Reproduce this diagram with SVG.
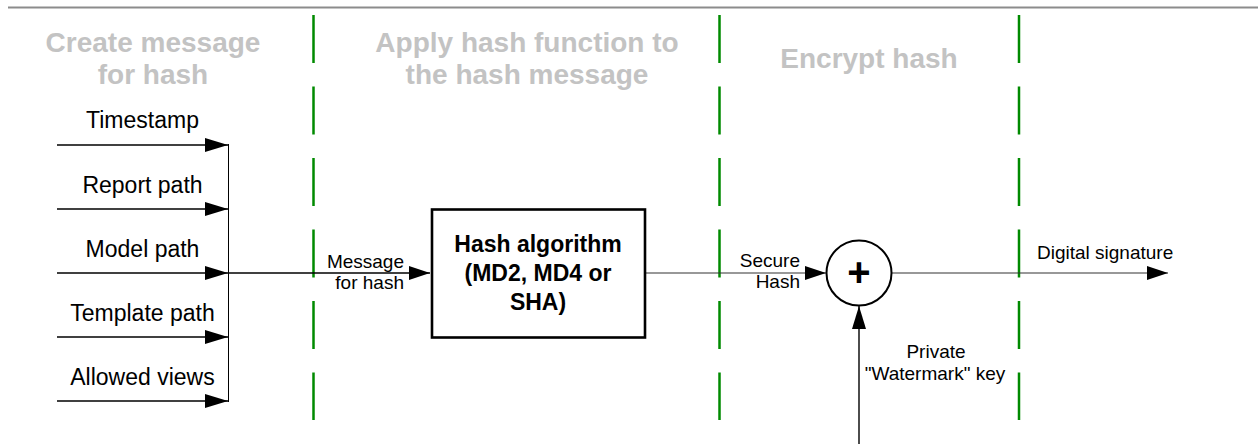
<svg xmlns="http://www.w3.org/2000/svg" width="1258" height="444" viewBox="0 0 1258 444">
<style>
.hdr{font-family:"Liberation Sans",Arial,sans-serif;font-weight:bold;font-size:28px;fill:#c3c3c3;text-anchor:middle}
.lbl{font-family:"Liberation Sans",Arial,sans-serif;font-size:23px;fill:#000;text-anchor:middle}
.sm{font-family:"Liberation Sans",Arial,sans-serif;font-size:19px;fill:#000}
.bx{font-family:"Liberation Sans",Arial,sans-serif;font-weight:bold;font-size:23px;fill:#000;text-anchor:middle}
.lane{stroke:#008a00;stroke-width:2.5;stroke-dasharray:48 23.5;fill:none}
.arr{stroke:#000;stroke-width:1.4;fill:none}
.thin{stroke:#333;stroke-width:1.2;fill:none}
</style>
<defs>
<marker id="ah" markerUnits="userSpaceOnUse" markerWidth="24" markerHeight="16" refX="23" refY="7" orient="auto">
<path d="M0,0 L23,7 L0,14 Z" fill="#000"/>
</marker>
<marker id="ahs" markerUnits="userSpaceOnUse" markerWidth="22" markerHeight="16" refX="21" refY="7" orient="auto">
<path d="M0,0 L21,7 L0,14 Z" fill="#000"/>
</marker>
</defs>
<line x1="8" y1="7.5" x2="1258" y2="7.5" stroke="#8c8c8c" stroke-width="1.8"/>
<g id="lanes">
<line class="lane" x1="313.5" y1="15" x2="313.5" y2="420"/>
<line class="lane" x1="719.5" y1="15" x2="719.5" y2="420"/>
<line class="lane" x1="1019" y1="15" x2="1019" y2="420"/>
</g>
<g id="headers">
<text class="hdr" x="153" y="52">Create message</text>
<text class="hdr" x="153" y="84">for hash</text>
<text class="hdr" x="527" y="52">Apply hash function to</text>
<text class="hdr" x="527" y="84">the hash message</text>
<text class="hdr" x="869" y="68">Encrypt hash</text>
</g>
<g id="connectors">
<line class="arr" x1="57" y1="145" x2="228" y2="145" marker-end="url(#ah)"/>
<line class="arr" x1="57" y1="209" x2="228" y2="209" marker-end="url(#ah)"/>
<line class="arr" x1="57" y1="273" x2="228" y2="273" marker-end="url(#ah)"/>
<line class="arr" x1="57" y1="337" x2="228" y2="337" marker-end="url(#ah)"/>
<line class="arr" x1="57" y1="401" x2="228" y2="401" marker-end="url(#ah)"/>
<line x1="228.5" y1="144" x2="228.5" y2="402" stroke="#000" stroke-width="1"/>
<line class="arr" x1="228" y1="273" x2="430" y2="273" marker-end="url(#ahs)"/>
<line class="thin" x1="646" y1="273" x2="826" y2="273" marker-end="url(#ahs)"/>
<line class="thin" x1="891" y1="273" x2="1168" y2="273" marker-end="url(#ahs)"/>
<line class="arr" x1="859" y1="444" x2="859" y2="306" marker-end="url(#ah)"/>
</g>
<g id="input-labels">
<text class="lbl" x="142.5" y="128">Timestamp</text>
<text class="lbl" x="142.5" y="192.5">Report path</text>
<text class="lbl" x="142.5" y="256.5">Model path</text>
<text class="lbl" x="142.5" y="320.5">Template path</text>
<text class="lbl" x="142.5" y="384.5">Allowed views</text>
</g>
<g id="edge-labels">
<text class="sm" x="404" y="268" text-anchor="end">Message</text>
<text class="sm" x="404" y="289" text-anchor="end">for hash</text>
<text class="sm" x="800" y="267" text-anchor="end">Secure</text>
<text class="sm" x="800" y="288" text-anchor="end">Hash</text>
<text class="sm" x="1037" y="258.5">Digital signature</text>
<text class="sm" x="936" y="357.5" text-anchor="middle">Private</text>
<text class="sm" x="935" y="379.5" text-anchor="middle">"Watermark" key</text>
</g>
<g id="hash-box">
<rect x="432" y="209.5" width="213" height="128" fill="#fff" stroke="#000" stroke-width="2.6"/>
<text class="bx" x="538" y="252">Hash algorithm</text>
<text class="bx" x="538" y="281">(MD2, MD4 or</text>
<text class="bx" x="538" y="310">SHA)</text>
</g>
<g id="xor">
<circle cx="859" cy="273" r="32.5" fill="#fff" stroke="#000" stroke-width="2"/>
<text x="859" y="286" font-family="Liberation Sans,Arial,sans-serif" font-weight="bold" font-size="40" text-anchor="middle">+</text>
</g>
</svg>
